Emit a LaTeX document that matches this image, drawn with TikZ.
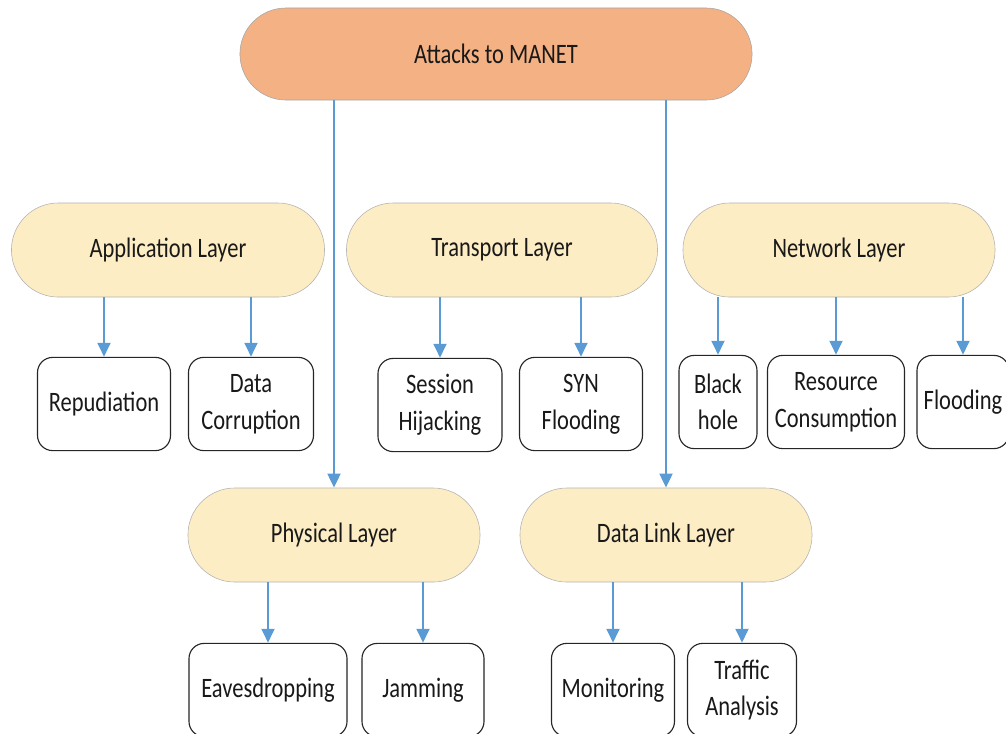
\documentclass[tikz,border=0pt]{standalone}
\usepackage{fontspec}
\setmainfont{Carlito}[FakeStretch=0.8]
\usetikzlibrary{arrows.meta,positioning}
\definecolor{RootOrange}{RGB}{244,177,131}
\definecolor{LayerYellow}{RGB}{253,237,196}
\definecolor{ArrBlue}{RGB}{91,155,213}
\newcommand{\lbl}{\fontsize{20}{26}\selectfont}
\tikzset{
	root/.style={draw=black!35, fill=RootOrange, rounded corners=1.15cm, minimum width=12.8cm, minimum height=2.3cm, text=black!90, font=\lbl},
	layer/.style={draw=black!30, fill=LayerYellow, rounded corners=1.17cm, minimum height=2.35cm, text=black!90, font=\lbl},
	leaf/.style={draw=black!85, line width=0.8pt, fill=white, rounded corners=0.38cm, minimum height=2.33cm, align=center, inner sep=2pt, text=black!90, font=\lbl},
	arr/.style={-{Triangle[length=10pt,width=9pt]}, line width=2pt, draw=ArrBlue}
}

\begin{document}
\begin{tikzpicture}[x=0.025cm, y=-0.025cm]
	\useasboundingbox (0,0) rectangle (1006,733);
	% root and layers
	\node[root] (root) at (496,54) {Attacks to MANET};
	\node[layer, minimum width=7.825cm] (app) at (168,250) {Application Layer};
	\node[layer, minimum width=7.775cm] (trans) at (502,250) {Transport Layer};
	\node[layer, minimum width=7.8cm] (net) at (839,250) {Network Layer};
	\node[layer, minimum width=7.3cm] (phy) at (334,535) {Physical Layer};
	\node[layer, minimum width=7.3cm] (dll) at (666,535) {Data Link Layer};
	% attacks
	\node[leaf, minimum width=3.325cm] (rep) at (104,404) {Repudiation};
	\node[leaf, minimum width=3.125cm] (corr) at (251,404) {Data\\ Corruption};
	\node[leaf, minimum width=3.1cm] (sess) at (440,405) {Session\\ Hijacking};
	\node[leaf, minimum width=3.075cm] (syn) at (581,404) {SYN\\ Flooding};
	\node[leaf, minimum width=1.95cm] (bh) at (718,402) {Black\\ hole};
	\node[leaf, minimum width=3.425cm] (res) at (836,402) {Resource\\ Consumption};
	\node[leaf, minimum width=2.3cm] (flood) at (963,402) {Flooding};
	\node[leaf, minimum width=3.95cm] (eav) at (268,690) {Eavesdropping};
	\node[leaf, minimum width=3.05cm] (jam) at (423,690) {Jamming};
	\node[leaf, minimum width=3.075cm] (mon) at (613,690) {Monitoring};
	\node[leaf, minimum width=2.725cm] (traf) at (742,690) {Traffic\\ Analysis};
	% arrows
	\draw[arr] (phy.north |- root.south) -- (phy.north);
	\draw[arr] (dll.north |- root.south) -- (dll.north);
	\draw[arr] (rep.north |- app.south) -- (rep.north);
	\draw[arr] (corr.north |- app.south) -- (corr.north);
	\draw[arr] (sess.north |- trans.south) -- (sess.north);
	\draw[arr] (syn.north |- trans.south) -- (syn.north);
	\draw[arr] (bh.north |- net.south) -- (bh.north);
	\draw[arr] (res.north |- net.south) -- (res.north);
	\draw[arr] (flood.north |- net.south) -- (flood.north);
	\draw[arr] (eav.north |- phy.south) -- (eav.north);
	\draw[arr] (jam.north |- phy.south) -- (jam.north);
	\draw[arr] (mon.north |- dll.south) -- (mon.north);
	\draw[arr] (traf.north |- dll.south) -- (traf.north);
\end{tikzpicture}
\end{document}
